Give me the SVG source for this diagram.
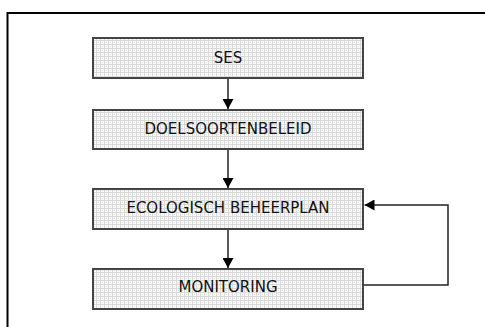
<svg xmlns="http://www.w3.org/2000/svg" width="485" height="327" viewBox="0 0 485 327">
<defs>
<pattern id="dots" width="4" height="4" patternUnits="userSpaceOnUse">
<rect width="4" height="4" fill="#fbfbfb"/>
<rect x="0" y="0" width="1" height="4" fill="#dadada"/>
<rect x="0" y="0" width="4" height="1" fill="#dadada"/>
<rect x="2" y="2" width="1" height="1" fill="#e2e2e2"/>
</pattern>
<marker id="arr" viewBox="0 0 10 11" refX="10" refY="5.5" markerWidth="10" markerHeight="11" markerUnits="userSpaceOnUse" orient="auto">
<path d="M0,0 L10,5.5 L0,11 Z" fill="#000"/>
</marker>
<style>
.box{fill:url(#dots);stroke:#444;stroke-width:2}
.lbl{font-family:"DejaVu Sans",Verdana,sans-serif;font-size:15px;fill:#111;text-anchor:middle}
.con{fill:none;stroke:#222;stroke-width:1.5}
</style>
</defs>
<rect x="7.5" y="13" width="490" height="330" fill="none" stroke="#000" stroke-width="2"/>
<g id="ses"><rect class="box" x="93" y="38" width="270" height="40"/><text class="lbl" x="228" y="62.5">SES</text></g>
<g id="doelsoortenbeleid"><rect class="box" x="93" y="110" width="270" height="39"/><text class="lbl" x="228" y="134">DOELSOORTENBELEID</text></g>
<g id="ecologisch"><rect class="box" x="93" y="189" width="270" height="40"/><text class="lbl" x="228" y="213">ECOLOGISCH BEHEERPLAN</text></g>
<g id="monitoring"><rect class="box" x="93" y="269" width="270" height="40"/><text class="lbl" x="228" y="291.5">MONITORING</text></g>
<g id="connectors">
<line class="con" x1="228" y1="79" x2="228" y2="109" marker-end="url(#arr)"/>
<line class="con" x1="228" y1="150" x2="228" y2="188" marker-end="url(#arr)"/>
<line class="con" x1="228" y1="230" x2="228" y2="268" marker-end="url(#arr)"/>
<polyline class="con" points="364,285 448,285 448,205 364.5,205" marker-end="url(#arr)"/>
</g>
</svg>
